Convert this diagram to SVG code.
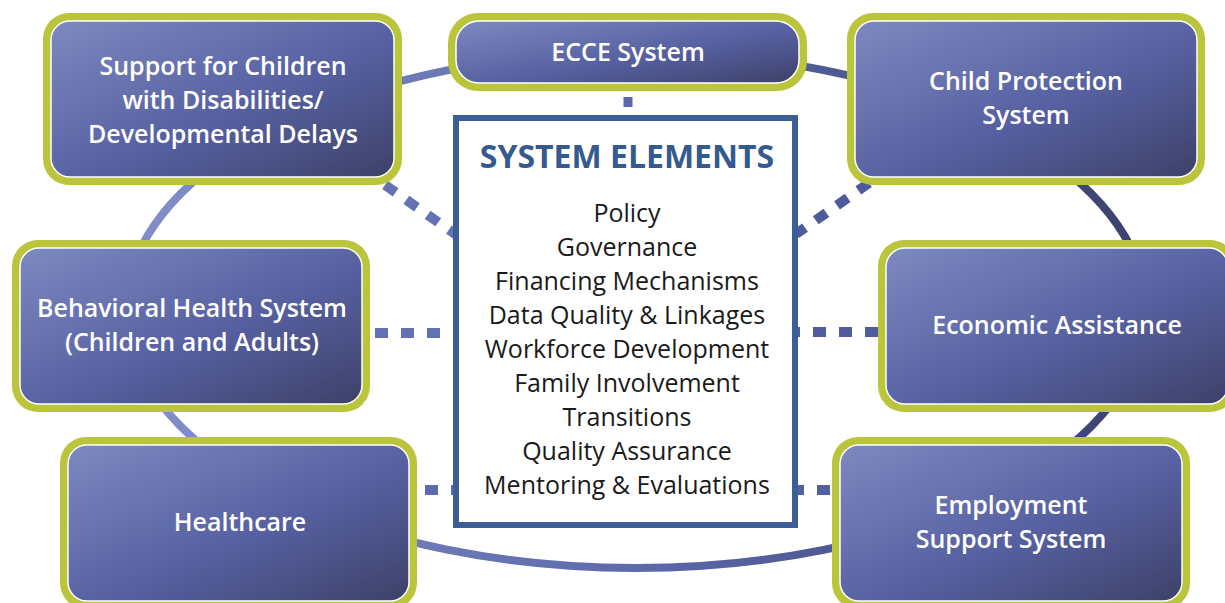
<svg xmlns="http://www.w3.org/2000/svg" width="1225" height="603" viewBox="0 0 1225 603">
<defs>
<linearGradient id="nodeFill" x1="0" y1="0" x2="1" y2="1">
<stop offset="0" stop-color="#7d89c0"/>
<stop offset="0.55" stop-color="#5761a2"/>
<stop offset="1" stop-color="#3d4168"/>
</linearGradient>
<linearGradient id="ringGrad" x1="0" y1="0" x2="1" y2="0">
<stop offset="0" stop-color="#8390c8"/>
<stop offset="0.5" stop-color="#5c69ab"/>
<stop offset="1" stop-color="#3b426e"/>
</linearGradient>
</defs>
<style>
.frame{fill:#bac53b}
.inner{fill:url(#nodeFill);stroke:#ffffff;stroke-width:1.5}
.label{font-family:"Open Sans","Liberation Sans",sans-serif;font-weight:600;font-size:25px;fill:#ffffff;text-anchor:middle}
.dashd{stroke-width:10;fill:none;stroke-dasharray:13 13}
.title{font-family:"Open Sans","Liberation Sans",sans-serif;font-weight:700;font-size:32px;fill:#355a8f;text-anchor:middle}
.item{font-family:"Open Sans","Liberation Sans",sans-serif;font-size:25px;fill:#1a1a1a;text-anchor:middle}
</style>
<rect width="1225" height="603" fill="#ffffff"/>
<ellipse cx="636" cy="310" rx="510" ry="258" fill="none" stroke="url(#ringGrad)" stroke-width="8"/>
<g id="connectors">
<line x1="628" y1="97" x2="628" y2="107" stroke="#5a67aa" stroke-width="9"/>
<line class="dashd" stroke="#6673b3" x1="385" y1="185" x2="458" y2="236"/>
<line class="dashd" stroke="#4d5b9d" x1="869" y1="183" x2="796" y2="234"/>
<line class="dashd" stroke="#6370b1" x1="375" y1="333" x2="458" y2="333"/>
<line class="dashd" stroke="#4f5c9e" x1="878" y1="332" x2="795" y2="332"/>
<line class="dashd" stroke="#5d6aad" x1="425" y1="490" x2="458" y2="490" stroke-dasharray="12 13"/>
<line class="dashd" stroke="#5360a2" x1="830" y1="490" x2="795" y2="490" stroke-dasharray="15 12"/>
</g>
<g id="system-elements">
<rect x="456" y="118" width="339" height="407" fill="#ffffff" stroke="#3b5e96" stroke-width="6"/>
<text class="title" x="627" y="168">SYSTEM ELEMENTS</text>
<text class="item" x="627" y="222">Policy</text>
<text class="item" x="627" y="256">Governance</text>
<text class="item" x="627" y="290">Financing Mechanisms</text>
<text class="item" x="627" y="324">Data Quality &amp; Linkages</text>
<text class="item" x="627" y="358">Workforce Development</text>
<text class="item" x="627" y="392">Family Involvement</text>
<text class="item" x="627" y="426">Transitions</text>
<text class="item" x="627" y="460">Quality Assurance</text>
<text class="item" x="627" y="494">Mentoring &amp; Evaluations</text>
</g>
<g id="node-support">
<rect class="frame" x="43" y="13" width="359" height="172" rx="26"/>
<rect class="inner" x="51" y="21" width="343" height="156" rx="19"/>
<text class="label" x="223" y="75">Support for Children</text>
<text class="label" x="223" y="109">with Disabilities/</text>
<text class="label" x="223" y="143">Developmental Delays</text>
</g>
<g id="node-ecce">
<rect class="frame" x="448" y="13" width="359" height="78" rx="30"/>
<rect class="inner" x="456" y="21" width="343" height="62" rx="23"/>
<text class="label" x="628" y="61">ECCE System</text>
</g>
<g id="node-child-protection">
<rect class="frame" x="847" y="13" width="358" height="172" rx="26"/>
<rect class="inner" x="855" y="21" width="342" height="156" rx="19"/>
<text class="label" x="1026" y="90">Child Protection</text>
<text class="label" x="1026" y="124">System</text>
</g>
<g id="node-behavioral">
<rect class="frame" x="12" y="240" width="358" height="172" rx="26"/>
<rect class="inner" x="20" y="248" width="342" height="156" rx="19"/>
<text class="label" x="192" y="317">Behavioral Health System</text>
<text class="label" x="192" y="351">(Children and Adults)</text>
</g>
<g id="node-economic">
<rect class="frame" x="878" y="240" width="358" height="172" rx="26"/>
<rect class="inner" x="886" y="248" width="342" height="156" rx="19"/>
<text class="label" x="1057" y="334">Economic Assistance</text>
</g>
<g id="node-healthcare">
<rect class="frame" x="60" y="437" width="357" height="172" rx="26"/>
<rect class="inner" x="68" y="445" width="341" height="156" rx="19"/>
<text class="label" x="240" y="531">Healthcare</text>
</g>
<g id="node-employment">
<rect class="frame" x="832" y="437" width="358" height="172" rx="26"/>
<rect class="inner" x="840" y="445" width="342" height="156" rx="19"/>
<text class="label" x="1011" y="514">Employment</text>
<text class="label" x="1011" y="548">Support System</text>
</g>
</svg>
